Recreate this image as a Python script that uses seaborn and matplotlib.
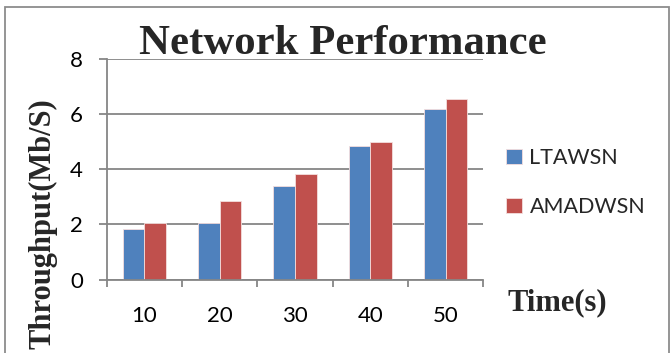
import matplotlib
matplotlib.use("Agg")
import matplotlib.pyplot as plt
from matplotlib.patches import Rectangle
from matplotlib.ticker import FixedLocator
import pandas as pd
import seaborn as sns

# Throughput per time step for the two schemes
times = ["10", "20", "30", "40", "50"]
ltawsn = [1.83, 2.05, 3.41, 4.83, 6.17]
amadwsn = [2.05, 2.86, 3.81, 5.00, 6.55]
series_names = ["LTAWSN", "AMADWSN"]
y_ticks = [0, 2, 4, 6, 8]

df = pd.DataFrame({
    "Time": times * 2,
    "Throughput": ltawsn + amadwsn,
    "Scheme": [series_names[0]] * len(times) + [series_names[1]] * len(times),
})

sns.set_theme(style="white")
plt.rcParams["font.family"] = ["Lato", "DejaVu Sans"]

W, H = 670, 353
fig = plt.figure(figsize=(W / 100, H / 100), dpi=100)
ax = fig.add_axes([106.7 / W, 1 - 279.5 / H, (483.3 - 106.7) / W, (279.5 - 59) / H])

palette = {"LTAWSN": "#4F81BD", "AMADWSN": "#C0504D"}
sns.barplot(data=df, x="Time", y="Throughput", hue="Scheme", order=times,
            hue_order=series_names, palette=palette, width=0.575,
            saturation=1, edgecolor="#f4dede", linewidth=0.6, ax=ax,
            zorder=3)

grid_c = "#868686"
ax.set_ylim(0, 8)
ax.set_xlim(-0.5, len(times) - 0.5)
ax.set_yticks(y_ticks)
ax.yaxis.grid(True, color=grid_c, linewidth=1.3, zorder=0)
ax.xaxis.grid(False)
for s in ["top", "right"]:
    ax.spines[s].set_visible(False)
for s in ["left", "bottom"]:
    ax.spines[s].set_color(grid_c)
    ax.spines[s].set_linewidth(1.3)
    ax.spines[s].set_zorder(4)

ax.tick_params(axis="y", which="major", direction="out", length=6,
               width=1.3, color=grid_c, pad=11, labelsize=16,
               labelcolor="black", left=True)
ax.tick_params(axis="x", which="major", length=0, pad=19, labelsize=16,
               labelcolor="black")
ax.xaxis.set_minor_locator(FixedLocator([i - 0.5 for i in range(len(times) + 1)]))
ax.tick_params(axis="x", which="minor", direction="out", length=5,
               width=1.3, color=grid_c, bottom=True)
ax.set_xlabel("")
ax.set_ylabel("")

handles, labels = ax.get_legend_handles_labels()
ax.get_legend().remove()
fig.legend(handles, labels, loc="center left",
           bbox_to_anchor=(495 / W, 1 - 182.5 / H), frameon=False,
           fontsize=15.5, handlelength=0.75, handleheight=0.75,
           handletextpad=0.35, labelspacing=1.35, borderpad=0)

serif = ["Liberation Serif", "DejaVu Serif"]
fig.text(342.5 / W, 1 - 54 / H, "Network Performance", ha="center",
         va="baseline", fontsize=30.8, fontweight="bold", family=serif)
fig.text(557 / W, 1 - 310 / H, "Time(s)", ha="center", va="baseline",
         fontsize=22, fontweight="bold", family=serif)
fig.text(43 / W, 1 - 224 / H, "Throughput(Mb/S)", ha="center",
         va="center", rotation=90, fontsize=22, fontweight="bold",
         family=serif)

# outer frame of the chart area
fig.patches.append(Rectangle((4.5 / W, -0.05), (668.5 - 4.5) / W,
                             1 - 6.5 / H + 0.05, transform=fig.transFigure,
                             fill=False, edgecolor="#8c8c8c", linewidth=1.3))

fig.savefig("out.png", dpi=100, facecolor="white")
